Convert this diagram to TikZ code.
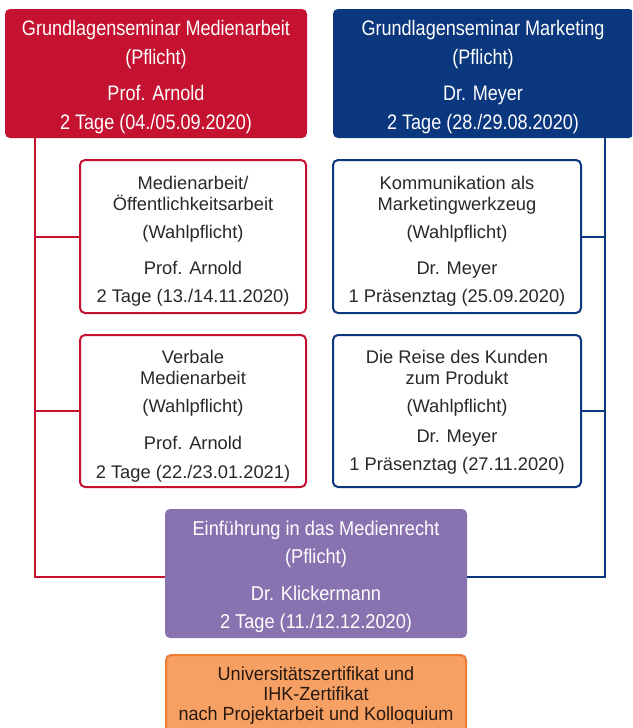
\documentclass[tikz,border=0pt]{standalone}
\usepackage{fontspec}
\setmainfont{Liberation Sans}
\newfontfamily\condA{Liberation Sans}[FakeStretch=0.86]
\newfontfamily\condB{Liberation Sans}[FakeStretch=0.91]
\newfontfamily\condC{Liberation Sans}[FakeStretch=0.95]
\definecolor{cred}{RGB}{196,18,48}
\definecolor{cblue}{RGB}{10,55,125}
\definecolor{cpurple}{RGB}{136,114,176}
\definecolor{corangef}{RGB}{246,160,100}
\definecolor{coranged}{RGB}{240,125,50}
\definecolor{ctext}{RGB}{40,40,40}
\definecolor{cotext}{RGB}{40,25,15}
\tikzset{
  box/.style={rectangle, inner sep=0pt, outer sep=0pt, rounded corners=5pt},
  topred/.style={box, fill=cred},
  topblue/.style={box, fill=cblue},
  optred/.style={box, draw=cred, line width=2pt, fill=white},
  optblue/.style={box, draw=cblue, line width=2pt, fill=white},
  pbox/.style={box, fill=cpurple},
  obox/.style={box, fill=corangef, draw=coranged, line width=2pt},
  wtxt/.style={anchor=base, inner sep=0pt, text=white, font=\condA\fontsize{21}{21}\selectfont},
  ptxt/.style={anchor=base, inner sep=0pt, text=white, font=\condB\fontsize{20}{20}\selectfont},
  otxt/.style={anchor=base, inner sep=0pt, text=cotext, font=\condC\fontsize{19}{19}\selectfont},
  gtxt/.style={anchor=base, inner sep=0pt, text=ctext, font=\fontsize{18.3}{18.3}\selectfont},
  redln/.style={draw=cred, line width=2pt},
  blueln/.style={draw=cblue, line width=2pt},
}
\begin{document}
\begin{tikzpicture}[x=1pt,y=-1pt]
\useasboundingbox (0,0) rectangle (632,728);
\clip (0,0) rectangle (632,728);
\fill[white] (0,0) rectangle (632,728);
% boxes
\node[topred, minimum width=302pt, minimum height=129pt] (gm) at (156,73.5) {};
\node[topblue, minimum width=301pt, minimum height=129pt] (gk) at (483.5,73.5) {};
\node[optred, minimum width=226pt, minimum height=153pt] (o1) at (193,236.5) {};
\node[optred, minimum width=226pt, minimum height=152pt] (o2) at (193,411) {};
\node[optblue, minimum width=248pt, minimum height=153pt] (o3) at (457,236.5) {};
\node[optblue, minimum width=248pt, minimum height=152pt] (o4) at (457,411) {};
\node[pbox, minimum width=302pt, minimum height=129pt] (kl) at (316,573.5) {};
\node[obox, minimum width=300pt, minimum height=90pt] (zf) at (316,700) {};
% connectors
\coordinate (rx) at (35,0);
\coordinate (bx) at (605,0);
\draw[redln] (gm.south -| rx) |- ([yshift=-3.5pt]kl.west);
\draw[redln] (o1.west) -- (o1.west -| rx);
\draw[redln] (o2.west) -- (o2.west -| rx);
\draw[blueln] (gk.south -| bx) |- ([yshift=-3pt]kl.east);
\draw[blueln] (o3.east) -- (o3.east -| bx);
\draw[blueln] (o4.east) -- (o4.east -| bx);
% texts top red
\node[wtxt] (gm1) at (156,35) {Grundlagenseminar Medienarbeit};
\node[wtxt] (gm2) at (156,64) {(Pflicht)};
\node[wtxt] (gm3) at (156,100) {Prof. Arnold};
\node[wtxt] (gm4) at (156,129) {2 Tage (04./05.09.2020)};
% texts top blue
\node[wtxt] (gk1) at (483,35) {Grundlagenseminar Marketing};
\node[wtxt] (gk2) at (483,64) {(Pflicht)};
\node[wtxt] (gk3) at (483,100) {Dr. Meyer};
\node[wtxt] (gk4) at (483,129) {2 Tage (28./29.08.2020)};
% option 1
\node[gtxt] (o1a) at (193,189) {Medienarbeit/};
\node[gtxt] (o1b) at (193,210) {Öffentlichkeitsarbeit};
\node[gtxt] (o1c) at (193,238) {(Wahlpflicht)};
\node[gtxt] (o1d) at (193,274) {Prof. Arnold};
\node[gtxt] (o1e) at (193,302) {2 Tage (13./14.11.2020)};
% option 2
\node[gtxt] (o2a) at (193,363) {Verbale};
\node[gtxt] (o2b) at (193,384) {Medienarbeit};
\node[gtxt] (o2c) at (193,412) {(Wahlpflicht)};
\node[gtxt] (o2d) at (193,449) {Prof. Arnold};
\node[gtxt] (o2e) at (193,478) {2 Tage (22./23.01.2021)};
% option 3
\node[gtxt] (o3a) at (457,189) {Kommunikation als};
\node[gtxt] (o3b) at (457,210) {Marketingwerkzeug};
\node[gtxt] (o3c) at (457,238) {(Wahlpflicht)};
\node[gtxt] (o3d) at (457,274) {Dr. Meyer};
\node[gtxt] (o3e) at (457,302) {1 Präsenztag (25.09.2020)};
% option 4
\node[gtxt] (o4a) at (457,363) {Die Reise des Kunden};
\node[gtxt] (o4b) at (457,384) {zum Produkt};
\node[gtxt] (o4c) at (457,412) {(Wahlpflicht)};
\node[gtxt] (o4d) at (457,442) {Dr. Meyer};
\node[gtxt] (o4e) at (457,470) {1 Präsenztag (27.11.2020)};
% purple
\node[ptxt] (kl1) at (316,535) {Einführung in das Medienrecht};
\node[ptxt] (kl2) at (316,563) {(Pflicht)};
\node[ptxt] (kl3) at (316,600) {Dr. Klickermann};
\node[ptxt] (kl4) at (316,628) {2 Tage (11./12.12.2020)};
% orange
\node[otxt] (zf1) at (316,680) {Universitätszertifikat und};
\node[otxt] (zf2) at (316,700) {IHK-Zertifikat};
\node[otxt] (zf3) at (316,720) {nach Projektarbeit und Kolloquium};
\end{tikzpicture}
\end{document}
